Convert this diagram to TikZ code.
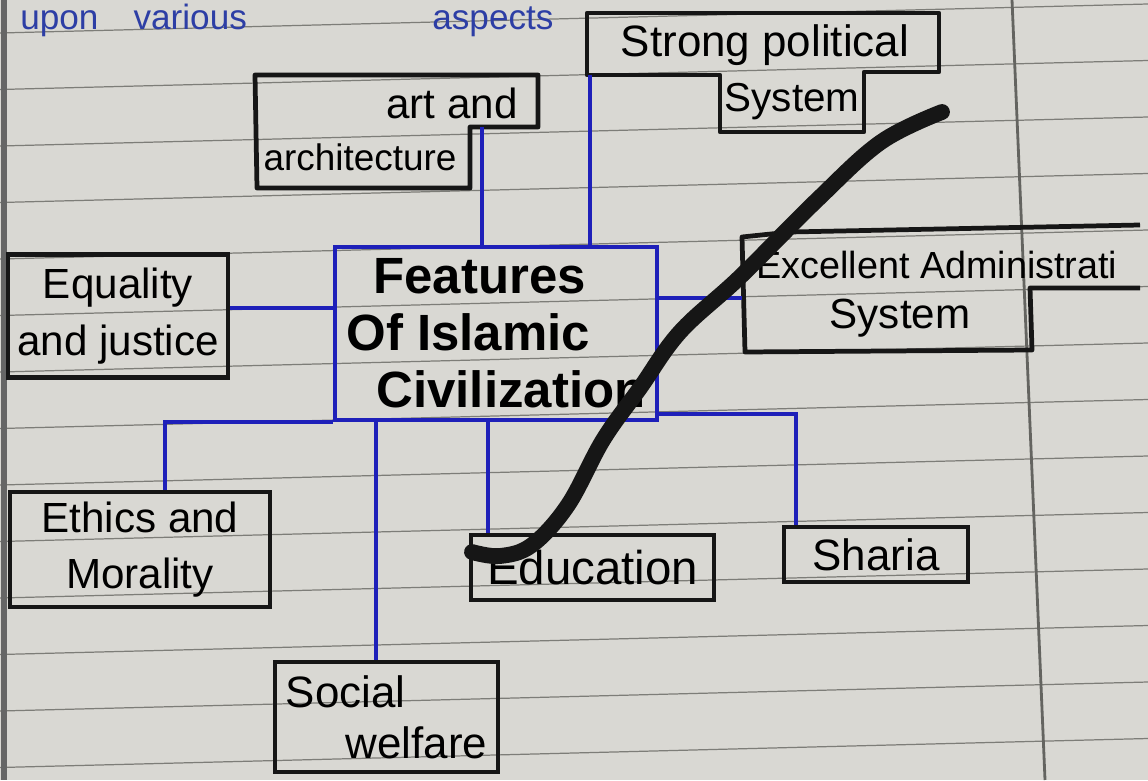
\documentclass[tikz,border=0pt]{standalone}
\usepackage{fontspec}
\setmainfont{Liberation Sans}
\usetikzlibrary{positioning}

\definecolor{paper}{RGB}{217,216,211}
\definecolor{rulegray}{RGB}{125,125,120}
\definecolor{pen}{RGB}{30,32,185}
\definecolor{ink}{RGB}{22,22,22}
\definecolor{bluepen}{RGB}{45,62,165}

\newcommand{\handfont}[1]{\fontsize{#1}{32}\selectfont}

\begin{document}
\begin{tikzpicture}[x=0.02cm, y=-0.02cm,
  box/.style={draw=ink, line width=2.7pt, inner sep=0pt, align=center, font=\handfont{24}},
  outline/.style={draw=ink, line width=2.7pt, line join=round},
  hand/.style={inner sep=0pt, font=\handfont{24}},
  hub/.style={draw=pen, line width=2.2pt, inner sep=2pt, align=left,
              font=\bfseries\fontsize{29}{32.5}\selectfont},
  link/.style={draw=pen, line width=2.2pt},
  ruled/.style={draw=rulegray, line width=0.7pt},
  scribble/.style={draw=ink, line width=9pt, line cap=round, line join=round}]

  % Page
  \useasboundingbox (0,0) rectangle (1148,780);
  \clip (0,0) rectangle (1148,780);
  \fill[paper] (0,0) rectangle (1148,780);
  \foreach \n in {0,...,13}
    \draw[ruled] (0,33+56.5*\n) -- (1148,4+56.5*\n);
  \draw[rulegray!80!black, line width=1.6pt] (1012,0) -- (1045,780); % margin
  \draw[black!60, line width=3pt] (4,0) -- (4,780);

  % Line from the page above
  \node[hand, text=bluepen, anchor=base west, font=\handfont{20}] (upon) at (20,30) {upon\quad various};
  \node[hand, text=bluepen, anchor=base west, font=\handfont{20}] (aspects) at (432,30) {aspects};

  % Centre
  \node[hub, minimum width=6.44cm, minimum height=3.46cm] (central) at (496,333.5)
    {\hspace*{0.54cm}Features\\Of Islamic\\\hspace*{0.6cm}Civilization};

  % Stepped boxes
  \draw[outline] (587,13) -- (939,13) -- (939,72) -- (864,72) -- (864,132)
                 -- (720,132) -- (720,75) -- (587,75) -- cycle;
  \node[hand, font=\handfont{25}] (political) at (765,45) {Strong political};
  \node[hand, font=\handfont{23}] (politicalsys) at (792,102) {System};
  \coordinate (politicalbase) at (590,75);

  \draw[outline] (255,75) -- (538,75) -- (538,127) -- (470,127) -- (470,188)
                 -- (257,188) -- cycle;
  \node[hand] (art) at (452,103) {art and};
  \node[hand, font=\handfont{21}] (architecture) at (360,157) {architecture};
  \coordinate (artbase) at (482,127);

  \draw[outline] (1140,225) -- (790,232) -- (742,237) -- (745,352) -- (1032,350)
                 -- (1030,288) -- (1140,288);
  \node[hand, anchor=west, font=\handfont{21.5}] (excellent) at (756,265) {Excellent Administrati};
  \node[hand] (excellentsys) at (900,318) {System};
  \coordinate (excellentport) at (742,298);

  % Plain boxes
  \node[box, minimum width=4.4cm, minimum height=2.46cm] (equality) at (118,316)
    {Equality\\and justice};
  \node[box, minimum width=5.2cm, minimum height=2.3cm] (ethics) at (140,549.5)
    {Ethics and\\Morality};
  \node[box, minimum width=4.86cm, minimum height=1.3cm, font=\handfont{27}] (education) at (592.5,567.5)
    {Education};
  \node[box, minimum width=3.68cm, minimum height=1.1cm, font=\handfont{25}] (sharia) at (876,554.5)
    {Sharia};
  \node[box, minimum width=4.46cm, minimum height=2.2cm, align=left,
        font=\fontsize{25}{29}\selectfont] (social) at (386.5,717)
    {Social\\\hspace*{1.2cm}welfare};

  % Connectors
  \draw[link] (politicalbase) -- (politicalbase |- central.north);
  \draw[link] (artbase) -- (artbase |- central.north);
  \draw[link] ([yshift=0.16cm]equality.east) -- ([yshift=0.16cm]equality.east -| central.west);
  \draw[link] (excellentport -| central.east) -- (excellentport);
  \draw[link] ([xshift=0.5cm]ethics.north) |- (central.south west);
  \draw[link] ([xshift=-0.21cm]social.north) -- ([xshift=-0.21cm]social.north |- central.south);
  \draw[link] ([xshift=-2.09cm]education.north) -- ([xshift=-2.09cm]education.north |- central.south);
  \draw[link] ([xshift=-1.6cm]sharia.north) |- ([yshift=0.16cm]central.south east);

  % Pen stroke across the page
  \draw[scribble] plot[smooth, tension=0.6] coordinates {(942,112) (881,142) (817,200)
    (740,277) (680,332) (640,388) (603,440) (568,505) (532,545) (500,556) (472,552)};

\end{tikzpicture}
\end{document}
